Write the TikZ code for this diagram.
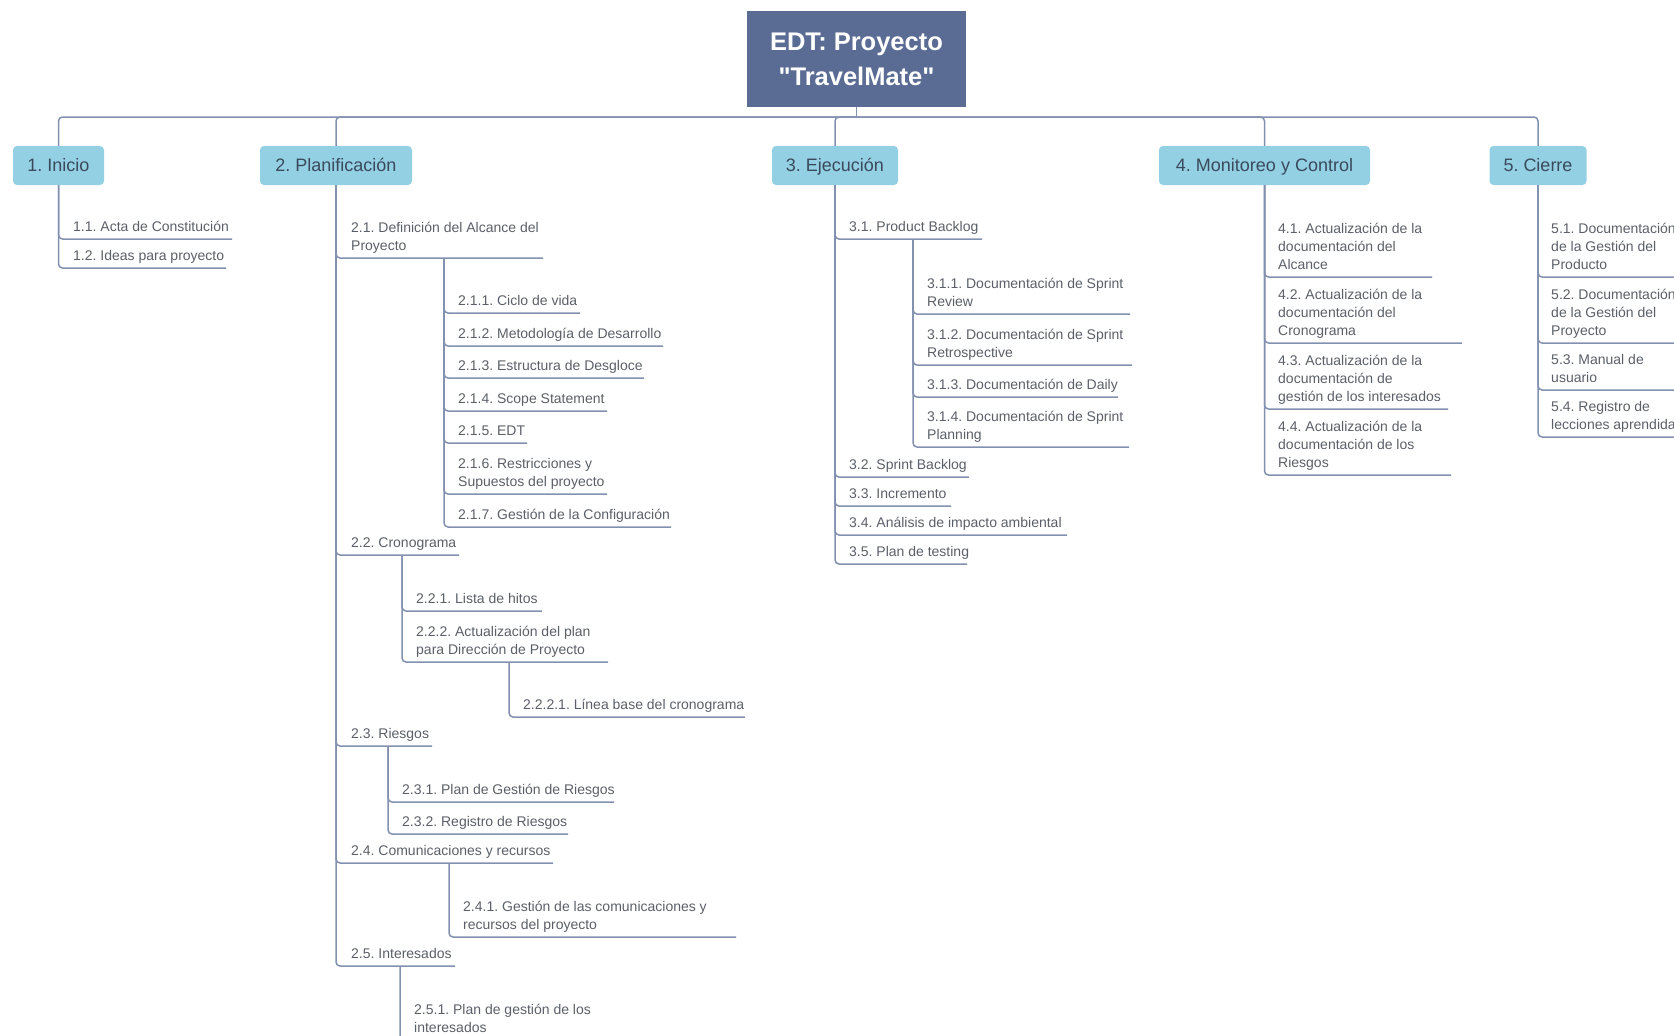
\documentclass[tikz,border=0pt]{standalone}
\usepackage{fontspec}
\setmainfont{Liberation Sans}
% family without TeX ligature mapping, so that " stays a straight quote
\newfontfamily\rootfont{Liberation Sans}

\definecolor{rootfill}{HTML}{5A6C94}
\definecolor{topicfill}{HTML}{94D0E4}
\definecolor{topicink}{HTML}{3A4A5C}
\definecolor{subink}{HTML}{5B6068}
\definecolor{linkline}{HTML}{8391B0}

% #1 name, #2 parent point, #3 text x, #4 underline y, #5 underline end x, #6 label
\newcommand{\wbsitem}[6]{%
  \coordinate (#1-e) at (#5,#4);
  \node[subtext] (#1) at (#3,#4) {#6};
  \draw[conn] (#2) |- (#1-e);
}

\begin{document}
\frenchspacing
\begin{tikzpicture}[x=1pt,y=-1pt,
  conn/.style={draw=linkline, line width=1.5pt, rounded corners=4pt},
  rootbox/.style={fill=rootfill, text=white, font=\rootfont\bfseries\fontsize{25.5}{35}\selectfont,
    align=center, minimum width=219pt, minimum height=96pt, inner sep=0pt},
  topic/.style={fill=topicfill, rounded corners=4pt, text=topicink,
    font=\fontsize{18}{22}\selectfont, minimum height=39pt, inner sep=0pt,
    text height=13pt, text depth=2pt},
  subtext/.style={anchor=south west, inner xsep=0pt, inner ysep=1.6pt, align=left,
    text=subink, font=\fontsize{14}{18}\selectfont, execute at end node=\strut},
]
\useasboundingbox (0,0) rectangle (1674,1036);
\fill[white] (0,0) rectangle (1674,1036);
\clip (0,0) rectangle (1674,1036);

% root and main phases
\node[rootbox] (root) at (856.5,59) {EDT: Proyecto\\"TravelMate"};
\coordinate (bar) at (856.5,117);
\draw[conn] (root.south) -- (bar);

\node[topic, minimum width=91pt]  (inicio) at (58.5,165.5) {1. Inicio};
\node[topic, minimum width=152pt] (planif) at (336,165.5) {2. Planificación};
\node[topic, minimum width=126pt] (ejec)   at (835,165.5) {3. Ejecución};
\node[topic, minimum width=211pt] (monit)  at (1264.5,165.5) {4. Monitoreo y Control};
\node[topic, minimum width=97pt]  (cierre) at (1538,165.5) {5. Cierre};

\foreach \t in {inicio,planif,ejec,monit,cierre}
  \draw[conn] (bar) -| (\t.north);

% 1. Inicio
\wbsitem{n11}{inicio.south}{73}{239}{232}{1.1. Acta de Constitución}
\wbsitem{n12}{inicio.south}{73}{268}{226}{1.2. Ideas para proyecto}

% 2. Planificación
\wbsitem{n21}{planif.south}{351}{258}{543}{2.1. Definición del Alcance del\\Proyecto}
\coordinate (n21b) at (444,258);
\wbsitem{n211}{n21b}{458}{313}{580}{2.1.1. Ciclo de vida}
\wbsitem{n212}{n21b}{458}{346}{663}{2.1.2. Metodología de Desarrollo}
\wbsitem{n213}{n21b}{458}{378}{644}{2.1.3. Estructura de Desgloce}
\wbsitem{n214}{n21b}{458}{411}{607}{2.1.4. Scope Statement}
\wbsitem{n215}{n21b}{458}{443}{527}{2.1.5. EDT}
\wbsitem{n216}{n21b}{458}{494}{607}{2.1.6. Restricciones y\\Supuestos del proyecto}
\wbsitem{n217}{n21b}{458}{527}{671}{2.1.7. Gestión de la Configuración}

\wbsitem{n22}{planif.south}{351}{555}{459}{2.2. Cronograma}
\coordinate (n22b) at (402,555);
\wbsitem{n221}{n22b}{416}{611}{542}{2.2.1. Lista de hitos}
\wbsitem{n222}{n22b}{416}{662}{608}{2.2.2. Actualización del plan\\para Dirección de Proyecto}
\coordinate (n222b) at (509,662);
\wbsitem{n2221}{n222b}{523}{717}{745}{2.2.2.1. Línea base del cronograma}

\wbsitem{n23}{planif.south}{351}{746}{432}{2.3. Riesgos}
\coordinate (n23b) at (388,746);
\wbsitem{n231}{n23b}{402}{802}{614}{2.3.1. Plan de Gestión de Riesgos}
\wbsitem{n232}{n23b}{402}{834}{568}{2.3.2. Registro de Riesgos}

\wbsitem{n24}{planif.south}{351}{863}{553}{2.4. Comunicaciones y recursos}
\coordinate (n24b) at (449,863);
\wbsitem{n241}{n24b}{463}{937}{736}{2.4.1. Gestión de las comunicaciones y\\recursos del proyecto}

\wbsitem{n25}{planif.south}{351}{966}{455}{2.5. Interesados}
\coordinate (n25b) at (400,966);
\wbsitem{n251}{n25b}{414}{1040}{600}{2.5.1. Plan de gestión de los\\interesados}

% 3. Ejecución
\wbsitem{n31}{ejec.south}{849}{239}{982}{3.1. Product Backlog}
\coordinate (n31b) at (913,239);
\wbsitem{n311}{n31b}{927}{314}{1130}{3.1.1. Documentación de Sprint\\Review}
\wbsitem{n312}{n31b}{927}{365}{1132}{3.1.2. Documentación de Sprint\\Retrospective}
\wbsitem{n313}{n31b}{927}{397}{1118}{3.1.3. Documentación de Daily}
\wbsitem{n314}{n31b}{927}{447}{1129}{3.1.4. Documentación de Sprint\\Planning}
\wbsitem{n32}{ejec.south}{849}{477}{969}{3.2. Sprint Backlog}
\wbsitem{n33}{ejec.south}{849}{506}{951}{3.3. Incremento}
\wbsitem{n34}{ejec.south}{849}{535}{1067}{3.4. Análisis de impacto ambiental}
\wbsitem{n35}{ejec.south}{849}{564}{967}{3.5. Plan de testing}

% 4. Monitoreo y Control
\wbsitem{n41}{monit.south}{1278}{277}{1432}{4.1. Actualización de la\\documentación del\\Alcance}
\wbsitem{n42}{monit.south}{1278}{343}{1462}{4.2. Actualización de la\\documentación del\\Cronograma}
\wbsitem{n43}{monit.south}{1278}{409}{1448}{4.3. Actualización de la\\documentación de\\gestión de los interesados}
\wbsitem{n44}{monit.south}{1278}{475}{1451}{4.4. Actualización de la\\documentación de los\\Riesgos}

% 5. Cierre
\wbsitem{n51}{cierre.south}{1551}{277}{1700}{5.1. Documentación\\de la Gestión del\\Producto}
\wbsitem{n52}{cierre.south}{1551}{343}{1700}{5.2. Documentación\\de la Gestión del\\Proyecto}
\wbsitem{n53}{cierre.south}{1551}{390}{1700}{5.3. Manual de\\usuario}
\wbsitem{n54}{cierre.south}{1551}{437}{1700}{5.4. Registro de\\lecciones aprendidas}
\end{tikzpicture}
\end{document}
